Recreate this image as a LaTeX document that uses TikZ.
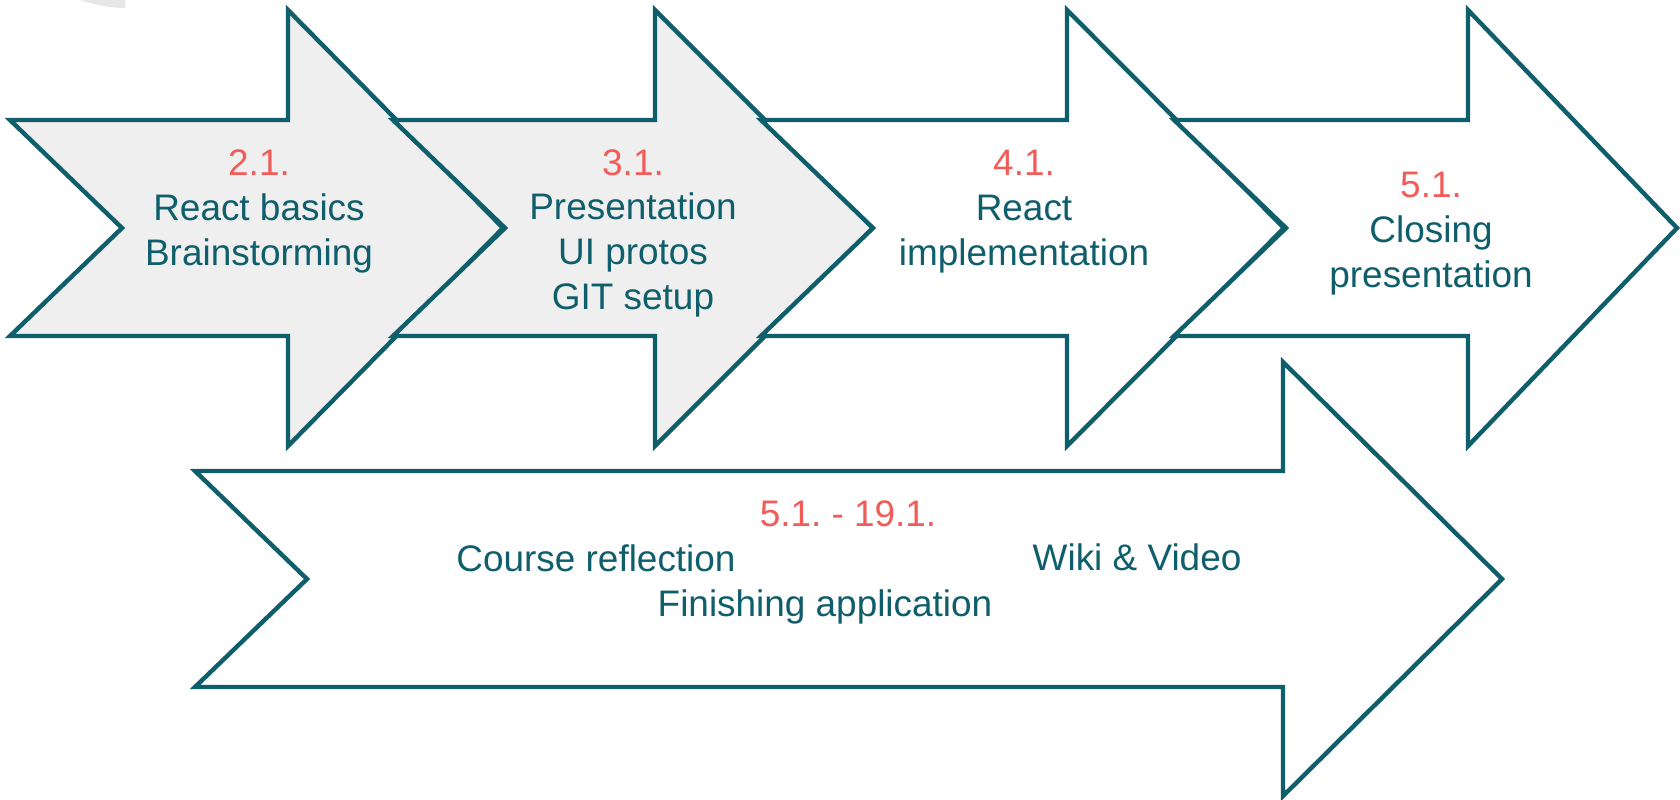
\documentclass[tikz,border=0pt]{standalone}
\usepackage{fontspec}
\setmainfont{Liberation Sans}
\frenchspacing
\definecolor{stepteal}{HTML}{0F5E6B}
\definecolor{datered}{HTML}{F25C58}
\definecolor{stepgray}{HTML}{EFEFEF}
\definecolor{markgray}{HTML}{E6E6E6}
\tikzset{
  steparrow/.style={draw=stepteal,line width=1.25pt,line join=miter},
  steptext/.style={text=stepteal,align=center,inner sep=0pt,anchor=base,
    font=\fontsize{10.5}{12.66}\selectfont},
}
\begin{document}
\begin{tikzpicture}[x=0.01cm,y=-0.01cm]
    \useasboundingbox (0,0) rectangle (1680,799);
    \fill[markgray] (80,0) .. controls (96,5) and (110,8) .. (125,8) -- (125,0) -- cycle;
    % top row
    \draw[steparrow,fill=stepgray] (10,120) -- (288,120) -- (288,10) -- (503,228)
    -- (288,446) -- (288,336) -- (10,336) -- (122,228) -- cycle;
    \draw[steparrow,fill=stepgray] (393,120) -- (655,120) -- (655,10) -- (873,228)
    -- (655,446) -- (655,336) -- (393,336) -- (505,228) -- cycle;
    \draw[steparrow,fill=white] (761,120) -- (1067,120) -- (1067,10) -- (1284,228)
    -- (1067,446) -- (1067,336) -- (761,336) -- (873,228) -- cycle;
    \draw[steparrow,fill=white] (1174,120) -- (1468,120) -- (1468,10) -- (1677,228)
    -- (1468,446) -- (1468,336) -- (1174,336) -- (1286,228) -- cycle;
    % long arrow
    \draw[steparrow,fill=white] (195,471) -- (1283,471) -- (1283,362) -- (1502,579)
    -- (1283,796) -- (1283,687) -- (195,687) -- (307,579) -- cycle;
    % base = last line
    \node[steptext] (basics) at (259,265)
    {\textcolor{datered}{2.1.}\\React basics\\Brainstorming};
    \node[steptext] (protos) at (633,309)
    {\textcolor{datered}{3.1.}\\Presentation\\UI protos\\GIT setup};
    \node[steptext] (impl) at (1024,265)
    {\textcolor{datered}{4.1.}\\React\\implementation};
    \node[steptext] (closing) at (1431,287)
    {\textcolor{datered}{5.1.}\\Closing\\presentation};
    \node[steptext,text=datered] (range) at (848,526) {5.1. - 19.1.};
    \node[steptext] (reflect) at (596,571) {Course reflection};
    \node[steptext] (wiki) at (1137,570) {Wiki \& Video};
    \node[steptext] (finish) at (825,616) {Finishing application};
\end{tikzpicture}
\end{document}
